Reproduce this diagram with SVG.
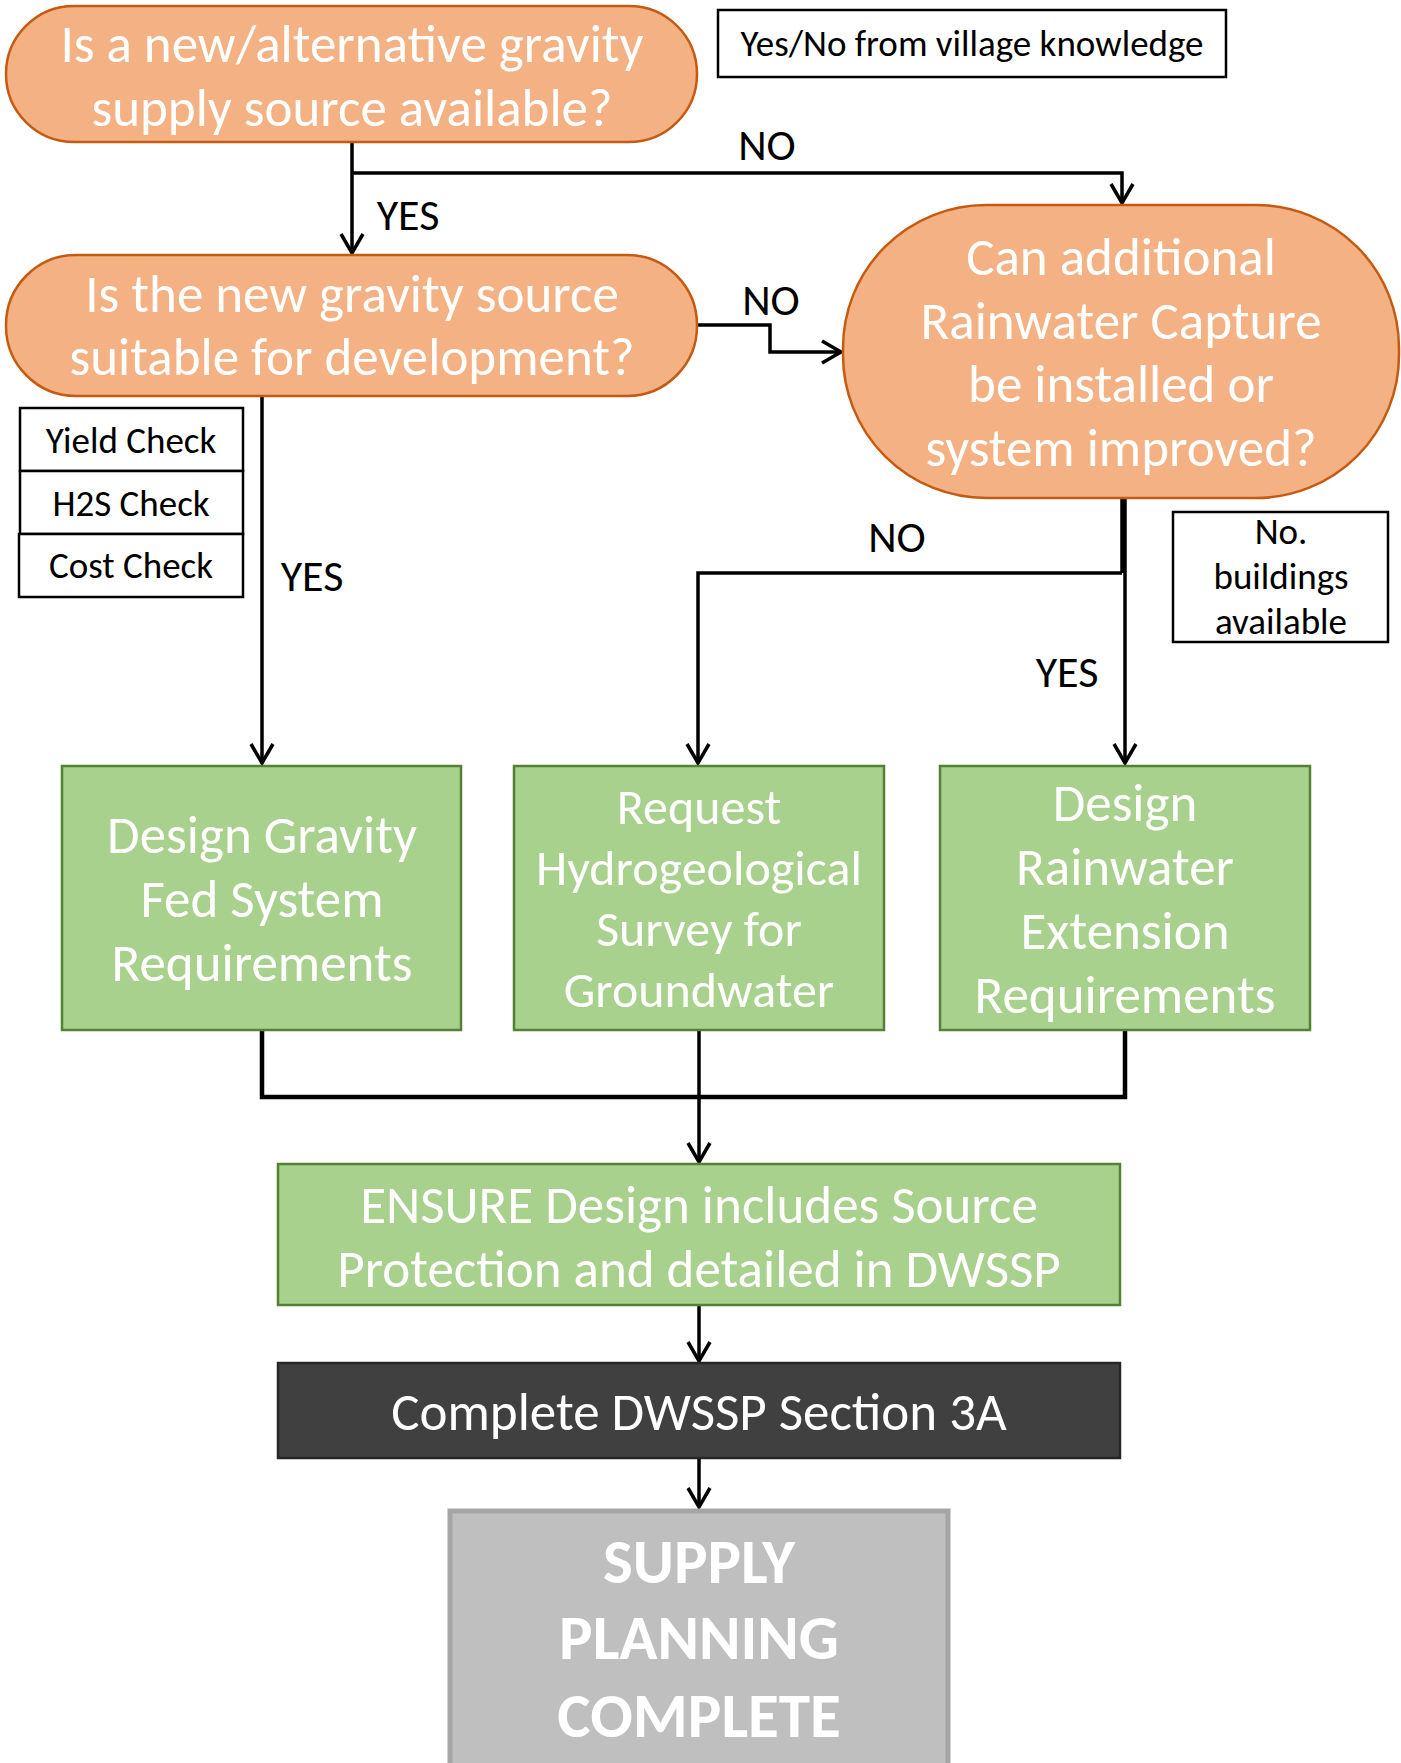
<svg xmlns="http://www.w3.org/2000/svg" width="1401" height="1763" viewBox="0 0 1401 1763">
<defs>
<style>
.orange{fill:#F4B183;stroke:#C55A11;stroke-width:2.5}
.green{fill:#A9D18E;stroke:#548235;stroke-width:2.5}
.dark{fill:#404040;stroke:#262626;stroke-width:2.5}
.gray{fill:#BFBFBF;stroke:#A5A5A5;stroke-width:5}
.note{fill:#FFFFFF;stroke:#000000;stroke-width:2.5}
.t{font-family:Carlito,Lato,"Open Sans",sans-serif;text-anchor:middle}
.big{font-size:53px;fill:#FFFFFF}
.mid{font-size:50px;fill:#FFFFFF}
.bold{font-size:63px;font-weight:bold;fill:#FFFFFF}
.small{font-size:37px;fill:#000000}
.lbl{font-size:44px;fill:#000000}
.conn{fill:none;stroke:#000000;stroke-width:3.5}
</style>
<marker id="arr" markerUnits="userSpaceOnUse" orient="auto" refX="0" refY="0" markerWidth="30" markerHeight="30" overflow="visible">
<path d="M-19,-11 L0,0 L-19,11" fill="none" stroke="#000000" stroke-width="3.5"/>
</marker>
</defs>
<rect width="1401" height="1763" fill="#FFFFFF"/>

<g id="connectors">
<path class="conn" d="M352,142 V253" marker-end="url(#arr)"/>
<path class="conn" d="M352,173 H1122 V203" marker-end="url(#arr)"/>
<path class="conn" d="M697,325 H770 V352 H841" marker-end="url(#arr)"/>
<path class="conn" d="M262,396 V763" marker-end="url(#arr)"/>
<path class="conn" d="M1123.5,498 V573" style="stroke-width:6.5"/>
<path class="conn" d="M1122,573 H698 V763" marker-end="url(#arr)"/>
<path class="conn" d="M1125,573 V763" marker-end="url(#arr)"/>
<path class="conn" d="M262,1030 V1097 H1125 V1030" style="stroke-width:4.5"/>
<path class="conn" d="M699,1030 V1162" marker-end="url(#arr)"/>
<path class="conn" d="M699,1305 V1361" marker-end="url(#arr)"/>
<path class="conn" d="M699,1458 V1507" marker-end="url(#arr)"/>
<text class="t lbl" x="767" y="160">NO</text>
<text class="t lbl" x="408" y="230">YES</text>
<text class="t lbl" x="771" y="315">NO</text>
<text class="t lbl" x="312" y="591">YES</text>
<text class="t lbl" x="897" y="552">NO</text>
<text class="t lbl" x="1067" y="687">YES</text>
</g>

<g id="q1">
<rect class="orange" x="6" y="6" width="691" height="136" rx="68"/>
<text class="t big" x="352" y="62">Is a new/alternative gravity</text>
<text class="t big" x="352" y="126">supply source available?</text>
</g>

<g id="note-village">
<rect class="note" x="718" y="10" width="508" height="67"/>
<text class="t small" x="972" y="56">Yes/No from village knowledge</text>
</g>

<g id="q2">
<rect class="orange" x="6" y="255" width="691" height="141" rx="70"/>
<text class="t big" x="352" y="312">Is the new gravity source</text>
<text class="t big" x="352" y="375">suitable for development?</text>
</g>

<g id="q3">
<rect class="orange" x="843" y="205" width="556" height="293" rx="143" ry="143"/>
<text class="t big" x="1121" y="275">Can additional</text>
<text class="t big" x="1121" y="339">Rainwater Capture</text>
<text class="t big" x="1121" y="402">be installed or</text>
<text class="t big" x="1121" y="466">system improved?</text>
</g>

<g id="checks">
<rect class="note" x="20" y="408" width="223" height="63"/>
<text class="t small" x="131" y="453">Yield Check</text>
<rect class="note" x="20" y="471" width="223" height="63"/>
<text class="t small" x="131" y="516">H2S Check</text>
<rect class="note" x="19" y="534" width="224" height="63"/>
<text class="t small" x="131" y="578">Cost Check</text>
</g>

<g id="note-buildings">
<rect class="note" x="1173" y="512" width="215" height="130"/>
<text class="t small" x="1281" y="544">No.</text>
<text class="t small" x="1281" y="589">buildings</text>
<text class="t small" x="1281" y="634">available</text>
</g>

<g id="gravity">
<rect class="green" x="62" y="766" width="399" height="264"/>
<text class="t big" x="262" y="853">Design Gravity</text>
<text class="t big" x="262" y="917">Fed System</text>
<text class="t big" x="262" y="981">Requirements</text>
</g>

<g id="hydro">
<rect class="green" x="514" y="766" width="370" height="264"/>
<text class="t mid" x="699" y="824">Request</text>
<text class="t mid" x="699" y="885">Hydrogeological</text>
<text class="t mid" x="699" y="946">Survey for</text>
<text class="t mid" x="699" y="1007">Groundwater</text>
</g>

<g id="rainwater">
<rect class="green" x="940" y="766" width="370" height="264"/>
<text class="t big" x="1125" y="821">Design</text>
<text class="t big" x="1125" y="885">Rainwater</text>
<text class="t big" x="1125" y="949">Extension</text>
<text class="t big" x="1125" y="1013">Requirements</text>
</g>

<g id="ensure">
<rect class="green" x="278" y="1164" width="842" height="141"/>
<text class="t big" x="699" y="1223">ENSURE Design includes Source</text>
<text class="t big" x="699" y="1287">Protection and detailed in DWSSP</text>
</g>

<g id="section3a">
<rect class="dark" x="278" y="1363" width="842" height="95"/>
<text class="t big" x="699" y="1430">Complete DWSSP Section 3A</text>
</g>

<g id="complete">
<rect class="gray" x="450" y="1511" width="498" height="260"/>
<text class="t bold" x="699" y="1583">SUPPLY</text>
<text class="t bold" x="699" y="1659">PLANNING</text>
<text class="t bold" x="699" y="1737">COMPLETE</text>
</g>
</svg>
